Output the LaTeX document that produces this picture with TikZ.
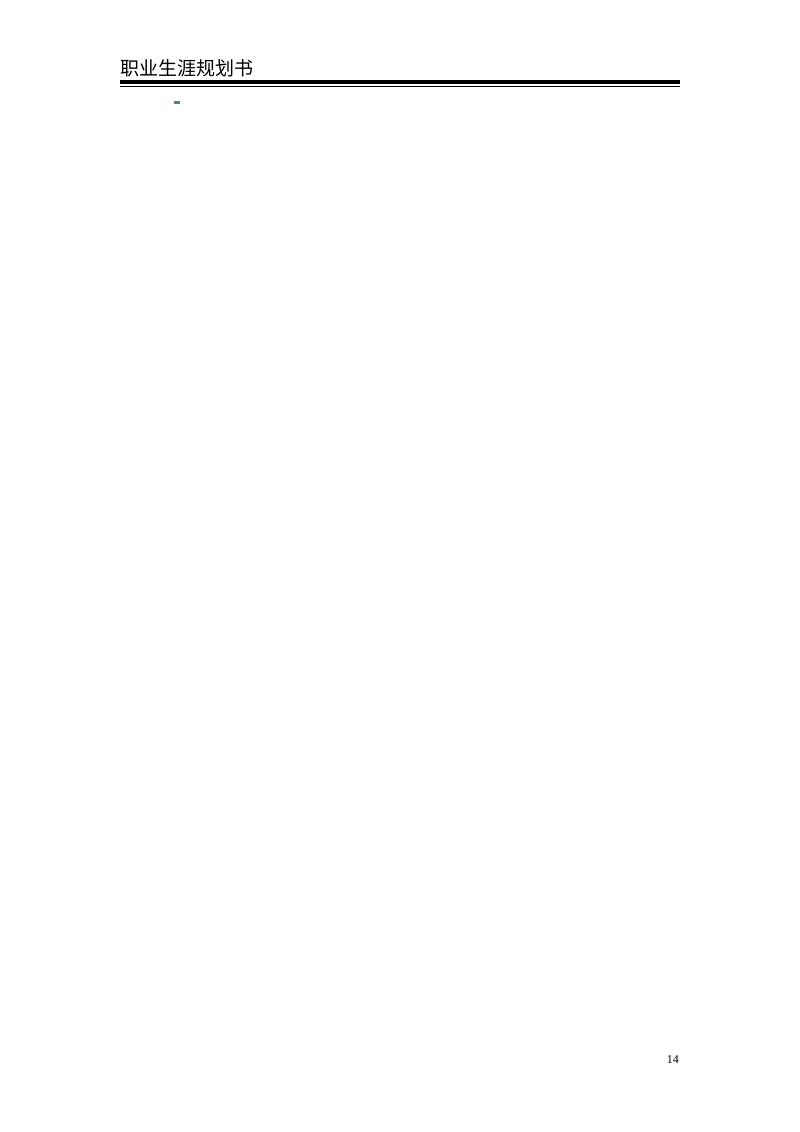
\documentclass[tikz,border=0pt]{standalone}
\usepackage{fontspec}
\setmainfont{Liberation Serif}
\newfontfamily\cjk{Noto Sans CJK SC}
\begin{document}
\begin{tikzpicture}[x=1pt,y=-1pt]
\useasboundingbox (0,0) rectangle (800,1132);
\node[anchor=base west,inner sep=0,font=\cjk\fontsize{19}{22}\selectfont] (title) at (120,76) {职业生涯规划书};
\draw[line width=3.5pt] (120,82) coordinate (a) -- (680,82) coordinate (b);
\draw[line width=0.8pt] (120,86.5) coordinate (c) -- (680,86.5) coordinate (d);
\fill[gray!70!teal] (174,101) rectangle (180,104);
\node[anchor=base east,inner sep=0,font=\fontsize{12}{14}\selectfont] (pg) at (679,1063) {14};
\end{tikzpicture}
\end{document}
